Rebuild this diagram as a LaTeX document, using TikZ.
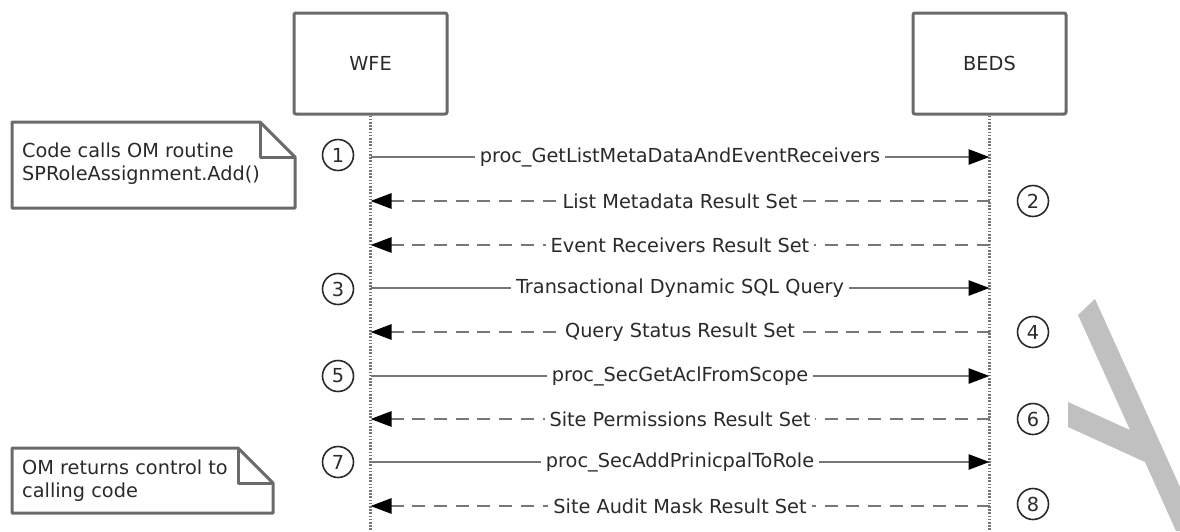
\documentclass[tikz,border=0pt]{standalone}
\usepackage{fontspec}
\setmainfont{DejaVu Sans}
\usetikzlibrary{arrows.meta}
\definecolor{linegray}{HTML}{777777}
\definecolor{boxgray}{HTML}{6A6A6A}
\definecolor{txt}{HTML}{2A2A2A}
\definecolor{ygray}{HTML}{C0C0C0}
\begin{document}
\begin{tikzpicture}[x=1pt,y=-1pt,
  font=\fontsize{19.3}{23}\selectfont,
  actor/.style={draw=boxgray, line width=3pt, rounded corners=2pt, minimum width=153pt, minimum height=101pt, text=txt},
  life/.style={draw=linegray, line width=3pt, dash pattern=on 1.6pt off 1.6pt},
  msg/.style={draw=linegray, line width=2.8pt, -{Triangle[length=21pt,width=15pt,color=black]}},
  ret/.style={msg, dash pattern=on 13pt off 8.7pt},
  lbl/.style={fill=white, text=txt, inner xsep=5pt, inner ysep=2pt},
  num/.style={circle, draw=txt, line width=1.6pt, minimum size=31pt, inner sep=0pt, text=txt},
  notebox/.style={draw=boxgray, line width=3pt, line join=round},
  notetext/.style={text=txt, align=left, anchor=west, inner sep=0pt}
]
\useasboundingbox (0,0) rectangle (1180,531);

% gray mark on the right
\fill[ygray] (1095,299) -- (1078,315) -- (1130,430) -- (1068,402) -- (1068,427) -- (1145,462) -- (1176,531) -- (1180,531) -- (1180,487) -- cycle;

% actors
\node[actor] (wfe) at (370.5,63.5) {WFE};
\node[actor] (beds) at (989.5,63.5) {BEDS};
\coordinate (wfeEnd) at (370.5,531);
\coordinate (bedsEnd) at (989.5,531);
\draw[life] (wfe.south) -- (wfeEnd);
\draw[life] (beds.south) -- (bedsEnd);

% row coordinates
\foreach \i/\y in {1/157,2/201,3/245,4/288,5/332,6/376,7/419,8/462,9/506}{
  \coordinate (w\i) at (370.5,\y);
  \coordinate (b\i) at (989.5,\y);
}

% messages
\draw[msg] (w1) -- node[lbl] (m1) {proc\_GetListMetaDataAndEventReceivers} (b1);
\draw[ret] (b2) -- node[lbl] (m2) {List Metadata Result Set} (w2);
\draw[ret] (b3) -- node[lbl] (m3) {Event Receivers Result Set} (w3);
\draw[msg] (w4) -- node[lbl] (m4) {Transactional Dynamic SQL Query} (b4);
\draw[ret] (b5) -- node[lbl] (m5) {Query Status Result Set} (w5);
\draw[msg] (w6) -- node[lbl] (m6) {proc\_SecGetAclFromScope} (b6);
\draw[ret] (b7) -- node[lbl] (m7) {Site Permissions Result Set} (w7);
\draw[msg] (w8) -- node[lbl] (m8) {proc\_SecAddPrinicpalToRole} (b8);
\draw[ret] (b9) -- node[lbl] (m9) {Site Audit Mask Result Set} (w9);

% step numbers
\node[num] (n1) at (338,155) {1};
\node[num] (n2) at (1033,201) {2};
\node[num] (n3) at (338,289) {3};
\node[num] (n4) at (1033,332) {4};
\node[num] (n5) at (338,376) {5};
\node[num] (n6) at (1033,419) {6};
\node[num] (n7) at (338,462) {7};
\node[num] (n8) at (1033,504) {8};

% notes
\draw[notebox] (12,122) -- (260,122) -- (295,157) -- (295,208) -- (12,208) -- cycle;
\draw[notebox] (260,122) -- (260,157) -- (295,157);
\node[notetext] (note1) at (22,164) {Code calls OM routine\\SPRoleAssignment.Add()};

\draw[notebox] (12,448) -- (238,448) -- (273,483) -- (273,513) -- (12,513) -- cycle;
\draw[notebox] (238,448) -- (238,483) -- (273,483);
\node[notetext] (note2) at (22,481) {OM returns control to\\calling code};
\end{tikzpicture}
\end{document}
